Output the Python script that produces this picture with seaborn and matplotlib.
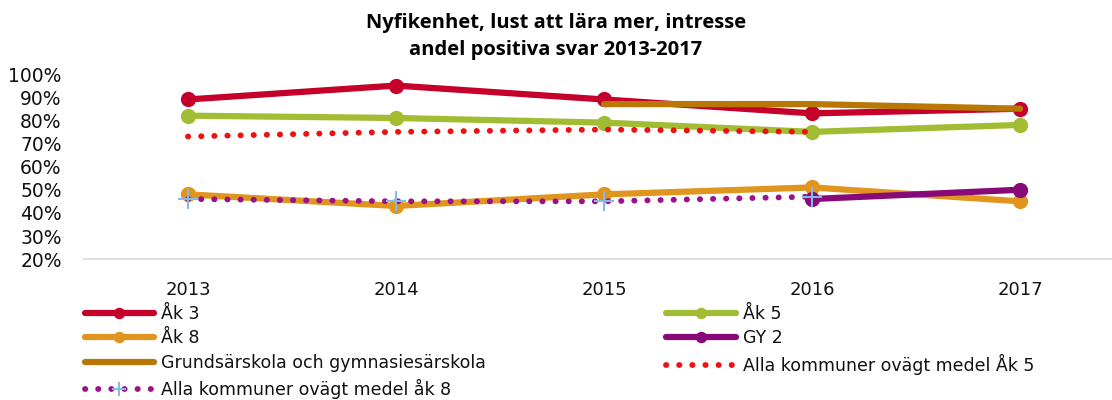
import numpy as np
import pandas as pd
import matplotlib
matplotlib.use('Agg')
import matplotlib.pyplot as plt
import seaborn as sns

# Data (percent, None = no value)
years = ['2013', '2014', '2015', '2016', '2017']
ak3 = [89, 95, 89, 83, 85]
ak5 = [82, 81, 79, 75, 78]
ak8 = [48, 43, 48, 51, 45]
gy2 = [None, None, None, 46, 50]
grundsar = [None, None, 87, 87, 85]
medel_ak5 = [73, 75, 76, 75, None]
medel_ak8 = [46, 45, 45, 47, None]

title = 'Nyfikenhet, lust att lära mer, intresse\nandel positiva svar 2013-2017'

sns.set_theme(style='white')
plt.rcParams['font.family'] = ['DejaVu Sans']
plt.rcParams['text.color'] = '#111111'

fig = plt.figure(figsize=(11.12, 4.0), dpi=100)
ax = fig.add_axes([0.0755, 0.352, 0.926, 0.463])


def draw(values, label, color, **kw):
    df = pd.DataFrame({'x': range(len(years)), 'y': values}).dropna()
    sns.lineplot(data=df, x='x', y='y', ax=ax, color=color, label=label,
                 estimator=None, sort=False, **kw)


solid = dict(linewidth=4.5, marker='o', markersize=11, markeredgewidth=0)
draw(ak8, 'Åk 8', '#E0951F', **solid)
draw(ak5, 'Åk 5', '#A2BD34', **solid)
draw(ak3, 'Åk 3', '#C5002B', **solid)
draw(gy2, 'GY 2', '#870A78', **solid)
draw(grundsar, 'Grundsärskola och gymnasiesärskola', '#B97705',
     linewidth=4.5)
draw(medel_ak5, 'Alla kommuner ovägt medel Åk 5', '#EE1111',
     linewidth=4.2, linestyle=(0, (0.05, 2.2)), dash_capstyle='round')
draw(medel_ak8, 'Alla kommuner ovägt medel åk 8', '#9A1289',
     linewidth=4.2, linestyle=(0, (0.05, 2.2)), dash_capstyle='round',
     marker='+', markersize=14, markeredgewidth=1.5,
     markeredgecolor='#86B8EA')

ax.set_xlim(-0.5, 4.45)
ax.set_ylim(20, 100)
ax.set_yticks(range(20, 101, 10))
ax.set_yticklabels([f'{v}%' for v in range(20, 101, 10)], fontsize=13.5,
                   color='#111111')
ax.set_xticks(range(len(years)))
ax.set_xticklabels(years, fontsize=13, color='#111111')
ax.tick_params(axis='y', length=0, pad=16)
ax.tick_params(axis='x', length=0, pad=16)
ax.set_xlabel('')
ax.set_ylabel('')
for side in ['top', 'right', 'left']:
    ax.spines[side].set_visible(False)
ax.spines['bottom'].set_color('#D9D9D9')
ax.spines['bottom'].set_linewidth(1.2)

fig.text(0.5, 0.968, title, ha='center', va='top', fontsize=14.5,
         fontweight='bold', family=['Open Sans', 'DejaVu Sans'],
         linespacing=1.5, color='black')

# legend: column-major order to get the reference row layout
handles, labels = ax.get_legend_handles_labels()
lookup = dict(zip(labels, handles))
order = ['Åk 3', 'Åk 8', 'Grundsärskola och gymnasiesärskola',
         'Alla kommuner ovägt medel åk 8',
         'Åk 5', 'GY 2', 'Alla kommuner ovägt medel Åk 5']
ax.legend().remove()
fig.legend([lookup[l] for l in order], order, loc='upper left',
           bbox_to_anchor=(0.076, 0.238), ncol=2, frameon=False,
           fontsize=12.5, handlelength=4.0, handletextpad=0.4,
           columnspacing=10.4, labelspacing=0.38, borderaxespad=0,
           borderpad=0, markerscale=0.75)

fig.savefig('out.png', dpi=100)
